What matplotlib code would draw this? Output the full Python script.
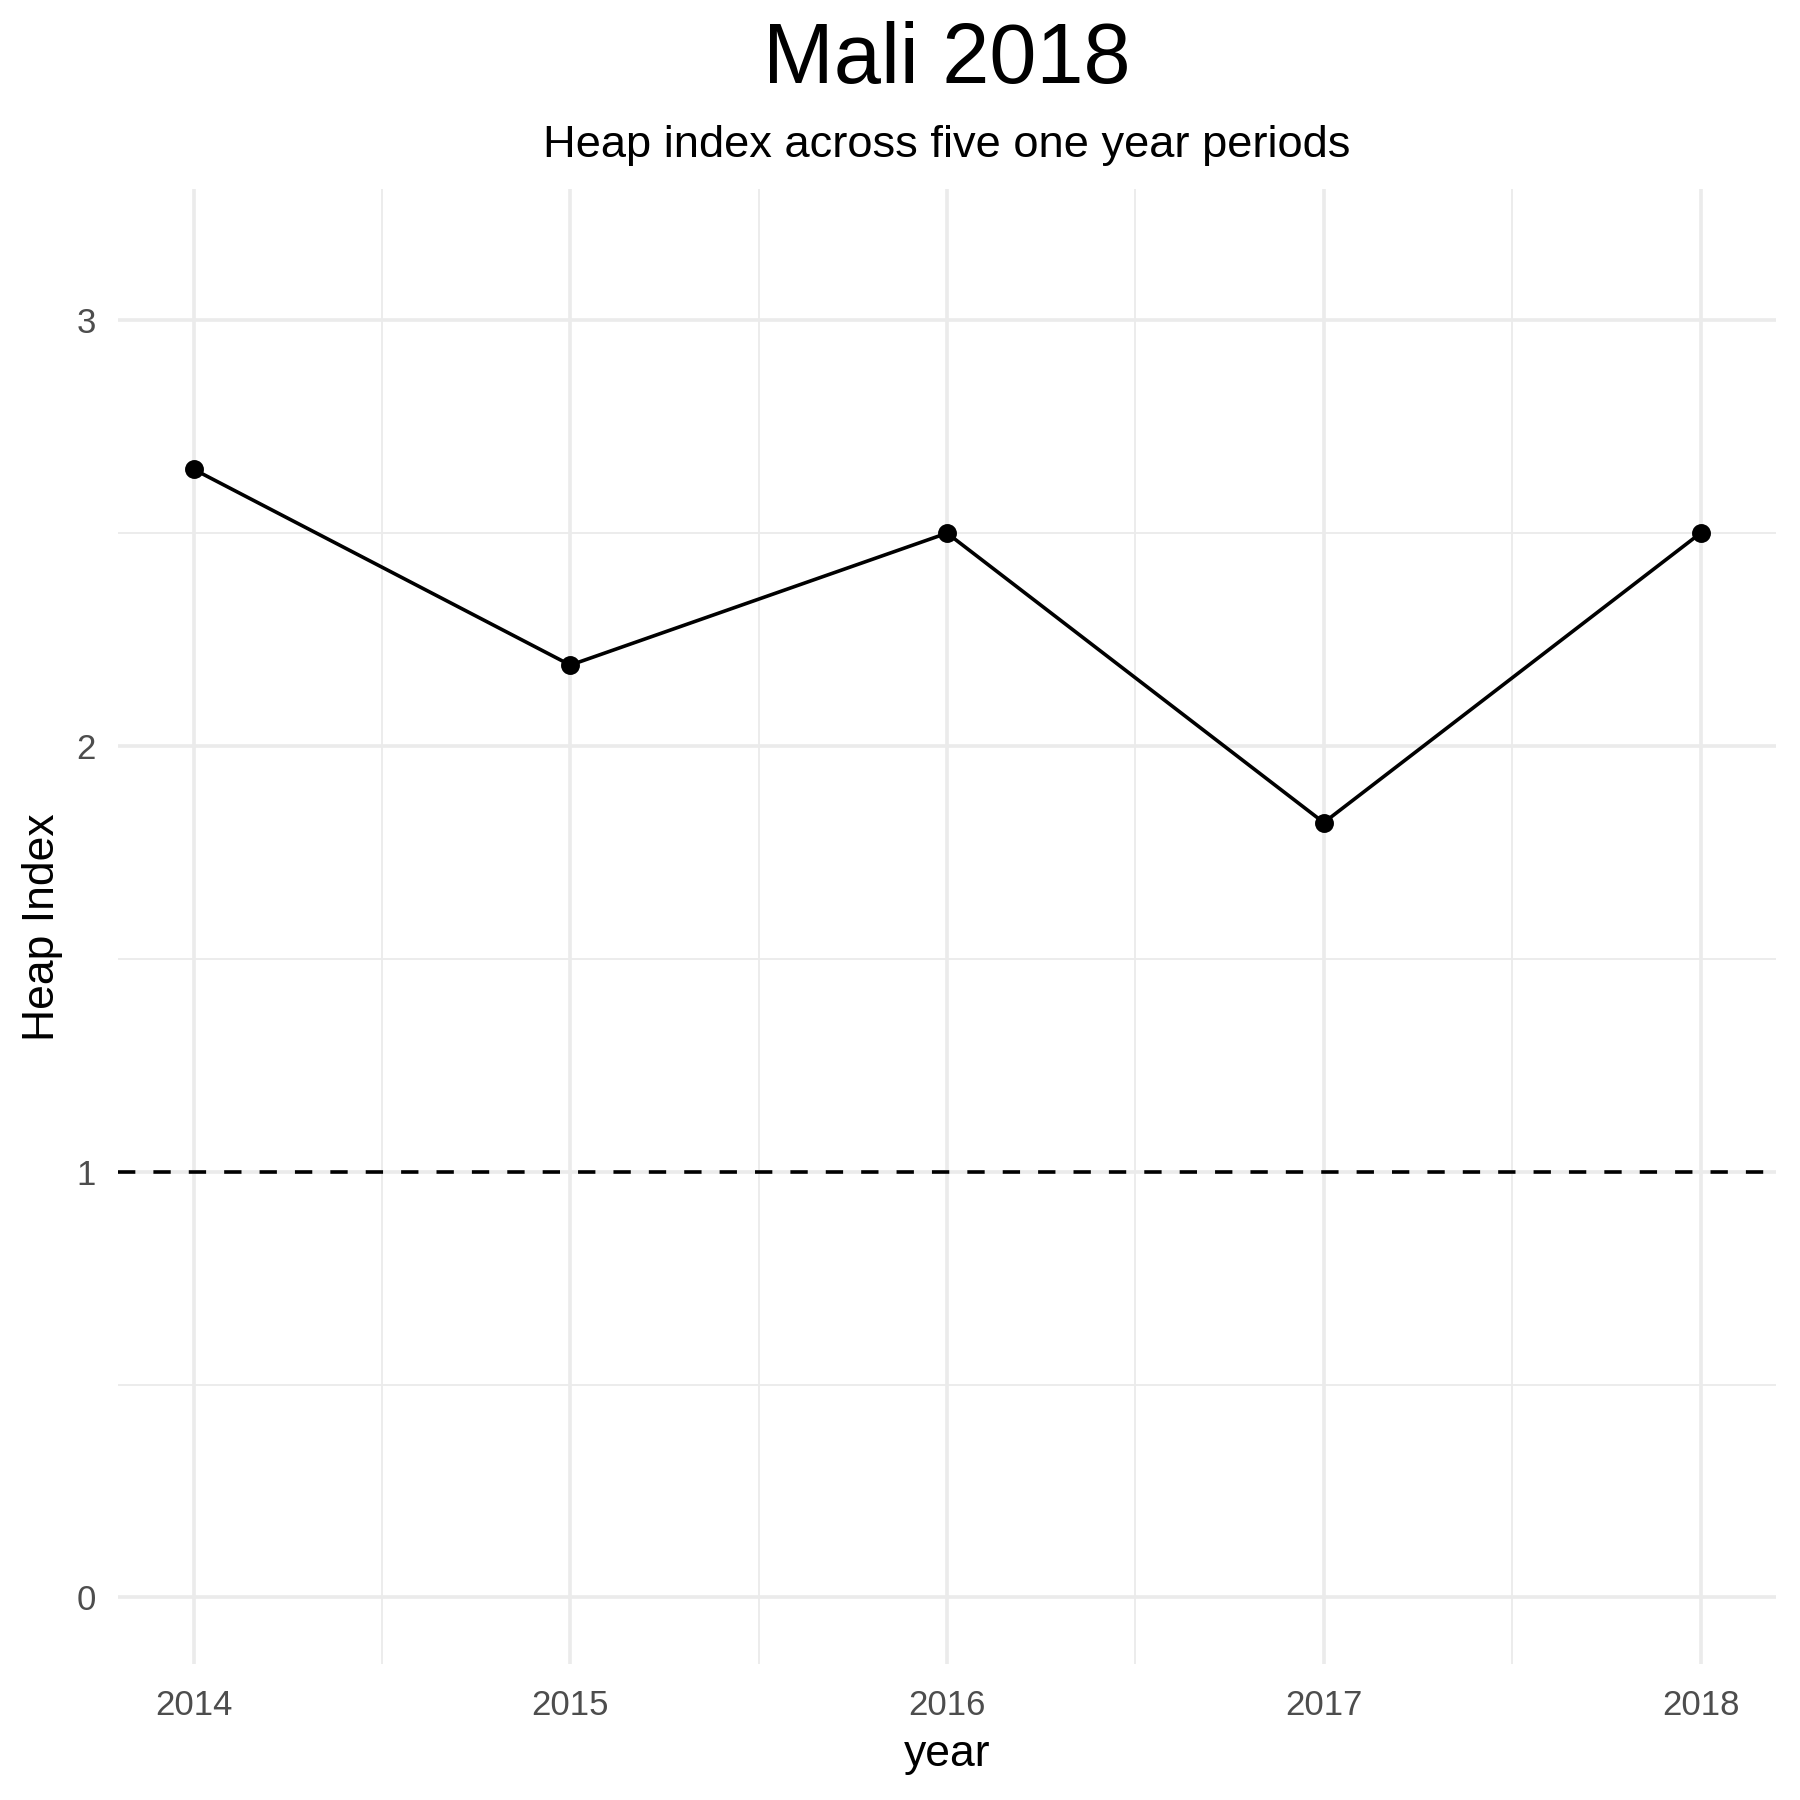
import numpy as np
import matplotlib
matplotlib.use( 'Agg' )
import matplotlib.pyplot as plt
from matplotlib import ticker as mticker

plt.rcParams['font.family'] = [ 'Liberation Sans', 'DejaVu Sans' ]

year = [ 2014, 2015, 2016, 2017, 2018 ]
heap = [ 2.65, 2.19, 2.50, 1.82, 2.50 ]
yticks = [ 0, 1, 2, 3 ]
refLevel = 1.0

title = 'Mali 2018'
subtitle = 'Heap index across five one year periods'

fig = plt.figure( figsize = ( 9, 9 ), dpi = 200 )
ax = fig.add_axes( [ 0.0657, 0.0753, 0.9209, 0.8195 ] )

gridc = '#EBEBEB'
ax.set_xlim( 2014 - 0.2, 2018 + 0.2 )
ax.set_ylim( -0.1575, 3.3075 )
ax.set_xticks( year )
ax.set_yticks( yticks )
ax.xaxis.set_minor_locator( mticker.MultipleLocator( 0.5 ) )
ax.yaxis.set_minor_locator( mticker.MultipleLocator( 0.5 ) )
ax.grid( which = 'major', color = gridc, lw = 1.3 )
ax.grid( which = 'minor', color = gridc, lw = 0.65 )
ax.set_axisbelow( True )
for sp in ax.spines.values():
    sp.set_visible( False )
ax.tick_params( which = 'both', length = 0 )
ax.tick_params( axis = 'both', labelsize = 12.5, labelcolor = '#4D4D4D' )
ax.tick_params( axis = 'x', pad = 9 )
ax.tick_params( axis = 'y', pad = 8 )

ax.axhline( refLevel, color = 'black', lw = 1.3, ls = ( 0, ( 4.8, 5.0 ) ) )
ax.plot( year, heap, color = 'black', lw = 1.3, marker = 'o', ms = 5.8 )

ax.set_xlabel( 'year', fontsize = 16, labelpad = 4 )
ax.set_ylabel( 'Heap Index', fontsize = 16, labelpad = 5 )

xc = 0.0657 + 0.9209 / 2
fig.text( xc, 0.966, title, ha = 'center', va = 'center', fontsize = 30.5 )
fig.text( xc, 0.919, subtitle, ha = 'center', va = 'center', fontsize = 16.3 )

fig.savefig( 'out.png', dpi = 200 )
